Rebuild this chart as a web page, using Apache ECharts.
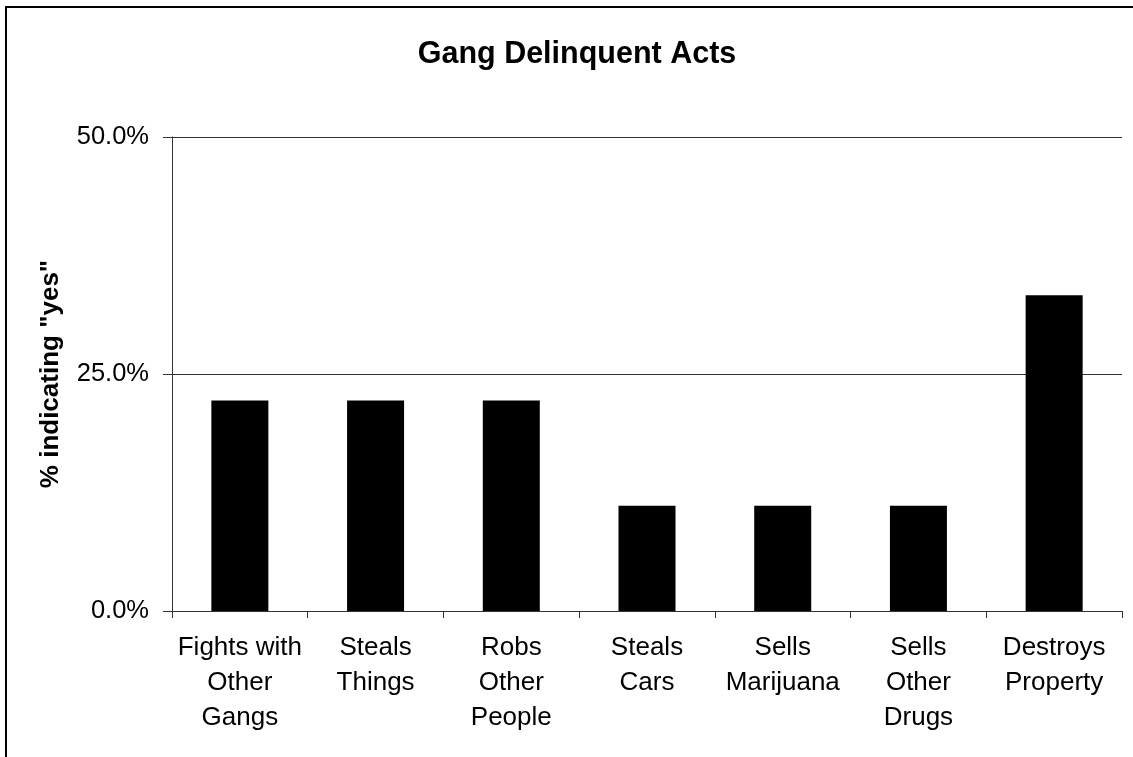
<!DOCTYPE html>
<html>
<head>
<meta charset="utf-8">
<script src="https://cdn.jsdelivr.net/npm/echarts@6/dist/echarts.min.js"></script>
<style>
html,body{margin:0;padding:0;background:#fff;}
#chart{width:1133px;height:757px;}
</style>
</head>
<body>
<div id="chart"></div>
<script>
const titleText = 'Gang Delinquent Acts';
const yAxisName = '% indicating "yes"';
const categories = ['Fights with\nOther\nGangs', 'Steals\nThings', 'Robs\nOther\nPeople', 'Steals\nCars', 'Sells\nMarijuana', 'Sells\nOther\nDrugs', 'Destroys\nProperty'];
const values = [22.2, 22.2, 22.2, 11.1, 11.1, 11.1, 33.3];
const yTicks = [0, 25, 50];

const chart = echarts.init(document.getElementById('chart'), null, {renderer: 'canvas'});
const font = 'Liberation Sans, Arial, sans-serif';
chart.setOption({
  animation: false,
  backgroundColor: '#fff',
  title: {
    text: titleText,
    left: 572,
    top: 34,
    textAlign: 'center',
    textStyle: {fontFamily: font, fontSize: 30.5, fontWeight: 'bold', color: '#000'}
  },
  graphic: [{
    type: 'rect',
    shape: {x: 6, y: 7, width: 1300, height: 900},
    style: {fill: 'none', stroke: '#000', lineWidth: 2},
    silent: true
  }],
  grid: {left: 172, right: 11, top: 137, bottom: 146, containLabel: false},
  xAxis: {
    type: 'category',
    data: categories,
    boundaryGap: true,
    axisLine: {show: true, lineStyle: {color: '#333', width: 1}},
    axisTick: {show: true, alignWithLabel: false, length: 7, lineStyle: {color: '#333'}},
    axisLabel: {
      interval: 0, margin: 19, fontFamily: font, fontSize: 26, lineHeight: 35,
      color: '#000', align: 'center'
    },
    splitLine: {show: false}
  },
  yAxis: {
    type: 'value',
    min: yTicks[0],
    max: yTicks[yTicks.length - 1],
    interval: yTicks[1] - yTicks[0],
    name: yAxisName,
    nameLocation: 'middle',
    nameRotate: 90,
    nameGap: 108,
    nameTextStyle: {fontFamily: font, fontSize: 26, fontWeight: 'bold', color: '#000'},
    axisLine: {show: true, lineStyle: {color: '#333', width: 1}},
    axisTick: {show: true, length: 9, lineStyle: {color: '#333'}},
    axisLabel: {
      margin: 23, fontFamily: font, fontSize: 25.5, color: '#000',
      formatter: v => v.toFixed(1) + '%'
    },
    splitLine: {show: true, lineStyle: {color: '#333', width: 1}}
  },
  series: [{
    type: 'bar',
    data: values,
    barWidth: '42%',
    itemStyle: {color: '#000'},
    silent: true
  }]
});
</script>
</body>
</html>
